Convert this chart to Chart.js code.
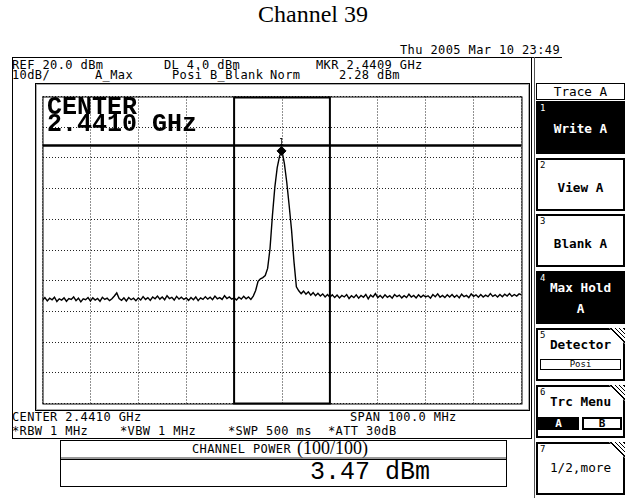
<!DOCTYPE html>
<html lang="en">
<head>
<meta charset="UTF-8">
<title>Channel 39</title>
<script src="https://cdn.jsdelivr.net/npm/chart.js"></script>
<style>
  body { margin:0; width:626px; height:498px; position:relative; overflow:hidden; background:#fff; color:#000; font-family:"DejaVu Sans Mono", monospace; }
  .a { position:absolute; box-sizing:border-box; }
  .t { position:absolute; font-size:12px; letter-spacing:0.4px; line-height:13px; white-space:pre; }
  .big { position:absolute; font:25px "Liberation Mono", monospace; line-height:25px; white-space:pre; }
  #title { position:absolute; left:0; top:1px; width:626px; text-align:center; font:24px "Liberation Serif", serif; }
  .btn { position:absolute; left:536px; width:89px; height:53px; box-sizing:border-box; border:2px solid #000; background:#fff; }
  .btn.on { background:#000; color:#fff; }
  .btn .n { position:absolute; left:2px; top:0; font-size:9px; line-height:10px; }
  .btn .l { position:absolute; left:0; width:100%; text-align:center; font-size:12.7px; font-weight:bold; line-height:14px; white-space:pre; }
  .hatch { position:absolute; right:-2px; top:-2px; width:16px; height:16px; background:repeating-linear-gradient(45deg,#000 0 1px,#fff 1px 3px); clip-path:polygon(0 0,100% 0,100% 100%); }
  #plot { position:absolute; left:37px; top:91px; width:490px; height:318px; }
</style>
</head>
<body>
  <div id="title">Channel 39</div>
  <div class="t" style="left:400px;top:44px">Thu 2005 Mar 10 23:49</div>

  <!-- outer frame, inner screen box, panel rail -->
  <div class="a" style="left:12px;top:57px;width:550px;height:1px;background:#000"></div>
  <div class="a" style="left:12px;top:57px;width:520px;height:382px;border:1px solid #000;border-top:none"></div>
  <div class="a" style="left:35px;top:83px;width:495px;height:328px;border:1px solid #000;box-shadow:inset 0 0 0 1px #aaa"></div>
  <div class="a" style="left:534px;top:57px;width:1px;height:441px;background:#555"></div>

  <div class="t" style="left:12px;top:59px">REF 20.0 dBm</div>
  <div class="t" style="left:164px;top:59px">DL 4.0 dBm</div>
  <div class="t" style="left:316px;top:59px">MKR 2.4409 GHz</div>
  <div class="t" style="left:12px;top:69px">10dB/</div>
  <div class="t" style="left:95px;top:69px">A_Max</div>
  <div class="t" style="left:172px;top:69px">Posi</div>
  <div class="t" style="left:210px;top:69px">B_Blank</div>
  <div class="t" style="left:270px;top:69px">Norm</div>
  <div class="t" style="left:339px;top:69px">2.28 dBm</div>

  <div id="plot"><canvas id="spec"></canvas></div>
  <div class="big" style="left:47px;top:95px;font-weight:bold">CENTER</div>
  <div class="big" style="left:47px;top:112px;font-weight:bold">2.4410 GHz</div>

  <div class="t" style="left:12px;top:411px">CENTER 2.4410 GHz</div>
  <div class="t" style="left:350px;top:411px">SPAN 100.0 MHz</div>
  <div class="t" style="left:12px;top:425px">*RBW 1 MHz</div>
  <div class="t" style="left:120px;top:425px">*VBW 1 MHz</div>
  <div class="t" style="left:228px;top:425px">*SWP 500 ms</div>
  <div class="t" style="left:328px;top:425px">*ATT 30dB</div>

  <!-- channel power readout -->
  <div class="a" style="left:60px;top:440px;width:447px;height:47px;border:1px solid #000;background:#fff"></div>
  <div class="a" style="left:61px;top:457px;width:445px;height:3px;background:#999;border-bottom:1px solid #000"></div>
  <div class="t" style="left:192px;top:443px">CHANNEL POWER</div>
  <div class="a" style="left:297px;top:439px;font:18px 'Liberation Serif',serif;line-height:18px">(100/100)</div>
  <div class="big" style="left:310px;top:460px">3.47 dBm</div>

  <!-- soft key panel -->
  <div class="a" style="left:536px;top:83px;width:89px;height:17px;border:1px solid #000;text-align:center;font-size:12.7px;line-height:15px">Trace A</div>
  <div class="btn on" style="top:101px"><span class="n">1</span><span class="l" style="top:19px">Write A</span></div>
  <div class="btn" style="top:158px"><span class="n">2</span><span class="l" style="top:21px">View A</span></div>
  <div class="btn" style="top:214px"><span class="n">3</span><span class="l" style="top:21px">Blank A</span></div>
  <div class="btn on" style="top:271px"><span class="n">4</span><span class="l" style="top:8px">Max Hold</span><span class="l" style="top:29px">A</span></div>
  <div class="btn" style="top:328px"><span class="n">5</span><div class="hatch"></div><span class="l" style="top:8px">Detector</span>
    <div class="a" style="left:2px;top:29px;width:81px;height:11px;border:1px solid #000;font-size:9px;line-height:9px;text-align:center">Posi</div></div>
  <div class="btn" style="top:385px"><span class="n">6</span><div class="hatch"></div><span class="l" style="top:8px">Trc Menu</span>
    <div class="a" style="left:0;top:30px;width:41px;height:13px;background:#000;color:#fff;font-size:11px;font-weight:bold;line-height:13px;text-align:center">A</div>
    <div class="a" style="left:44px;top:30px;width:40px;height:13px;border:2px solid #000;font-size:11px;font-weight:bold;line-height:9px;text-align:center">B</div></div>
  <div class="btn" style="top:442px"><span class="n">7</span><div class="hatch"></div><span class="l" style="top:17px;font-weight:normal">1/2,more</span></div>

<script>
  // sweep: 201 points, 2391 .. 2491 MHz
  const sweepStartMHz = 2391;
  const sweepStepMHz = 0.5;
  const traceLevels = [
    -46.4,-45.5,-46.6,-45.7,-46.2,-45.4,-46.8,-45.9,-46.3,-45.6,
    -46.7,-45.8,-46.1,-45.3,-46.5,-45.7,-46.9,-45.9,-46.2,-45.5,
    -46.6,-45.6,-46.3,-45.8,-46.7,-45.4,-46.1,-45.7,-46.5,-45.9,
    -45.0,-44.0,-45.8,-46.4,-45.6,-46.6,-45.5,-46.2,-45.7,-46.5,
    -45.6,-46.3,-45.2,-46.1,-45.5,-46.4,-45.3,-45.9,-45.0,-46.0,
    -45.3,-46.2,-44.9,-45.8,-45.4,-46.3,-45.1,-46.0,-45.4,-46.1,
    -45.6,-46.4,-45.5,-46.2,-45.3,-46.5,-45.6,-46.1,-45.2,-46.0,
    -45.4,-46.2,-45.0,-45.9,-45.5,-46.1,-44.9,-45.8,-45.3,-46.0,
    -45.6,-46.3,-45.4,-46.0,-45.1,-45.9,-45.3,-46.1,-45.0,-43.2,
    -40.2,-39.4,-39.0,-38.3,-36.0,-29.5,-18.8,-9.6,-3.2,0.6,
    2.28,
    -1.9,-8.0,-15.6,-23.6,-33.8,-42.0,-43.3,-44.2,-43.4,-44.4,
    -43.6,-44.7,-43.9,-44.9,-44.1,-45.0,-44.3,-45.3,-44.5,-45.4,
    -44.6,-45.5,-44.7,-45.6,-44.8,-45.3,-44.5,-45.8,-44.9,-45.5,
    -44.6,-45.7,-44.8,-45.4,-44.5,-45.9,-44.7,-45.3,-44.2,-45.5,
    -44.8,-45.6,-44.6,-45.4,-44.9,-45.7,-44.5,-45.2,-44.7,-45.6,
    -44.9,-45.5,-44.4,-45.3,-44.8,-45.6,-44.6,-45.4,-44.7,-45.3,
    -44.9,-45.7,-44.5,-45.2,-44.3,-45.4,-44.8,-45.5,-44.6,-45.3,
    -44.5,-45.4,-44.7,-45.6,-44.4,-45.2,-44.8,-45.5,-44.3,-45.1,
    -44.6,-45.4,-44.5,-45.3,-44.7,-45.2,-44.2,-45.1,-44.6,-45.3,
    -44.5,-45.2,-44.4,-45.0,-44.2,-45.1,-44.5,-45.0,-44.3,-44.6
  ];
  const freqRange = [2391, 2491];   // MHz, CENTER 2441 / SPAN 100
  const levelRange = [-80, 20];     // dBm, REF 20, 10 dB/div
  const displayLine = 4.0;          // DL 4.0 dBm
  const markerFreq = 2440.9;
  const markerLevel = 2.28;
  const channelWindow = [2431, 2451];

  const tracePts = traceLevels.map((v, i) => ({ x: sweepStartMHz + i * sweepStepMHz, y: v }));

  const screenFrame = {
    id: 'screenFrame',
    afterDatasetsDraw(chart) {
      const { ctx, chartArea: a, scales: { x, y } } = chart;
      ctx.save();
      ctx.strokeStyle = '#000';
      ctx.lineWidth = 1;
      ctx.strokeRect(a.left + 0.5, a.top + 0.5, a.right - a.left, a.bottom - a.top);
      const x0 = x.getPixelForValue(channelWindow[0]);
      const x1 = x.getPixelForValue(channelWindow[1]);
      ctx.lineWidth = 2;
      ctx.strokeRect(x0, a.top + 1, x1 - x0, a.bottom - a.top - 1);
      ctx.fillStyle = '#000';
      ctx.font = '8px "DejaVu Sans Mono"';
      ctx.textAlign = 'center';
      ctx.fillText('1', x.getPixelForValue(markerFreq), y.getPixelForValue(markerLevel) - 6);
      ctx.restore();
    }
  };

  new Chart(document.getElementById('spec'), {
    type: 'line',
    data: {
      datasets: [
        { data: tracePts, borderColor: '#000', borderWidth: 1.4, pointRadius: 0, tension: 0 },
        { data: [{ x: freqRange[0], y: displayLine }, { x: freqRange[1], y: displayLine }],
          borderColor: '#000', borderWidth: 2.5, pointRadius: 0 },
        { data: [{ x: markerFreq, y: markerLevel }], showLine: false, pointStyle: 'rectRot',
          pointRadius: 4.5, backgroundColor: '#000', borderColor: '#000' }
      ]
    },
    options: {
      responsive: true,
      maintainAspectRatio: false,
      animation: false,
      layout: { padding: 5 },
      plugins: { legend: { display: false }, tooltip: { enabled: false } },
      scales: {
        x: { type: 'linear', min: freqRange[0], max: freqRange[1],
             ticks: { display: false, stepSize: 10 },
             grid: { color: '#222', lineWidth: 1, drawTicks: false },
             border: { display: false, dash: [1, 2] } },
        y: { min: levelRange[0], max: levelRange[1],
             ticks: { display: false, stepSize: 10 },
             grid: { color: '#222', lineWidth: 1, drawTicks: false },
             border: { display: false, dash: [1, 2] } }
      }
    },
    plugins: [screenFrame]
  });
</script>
</body>
</html>
